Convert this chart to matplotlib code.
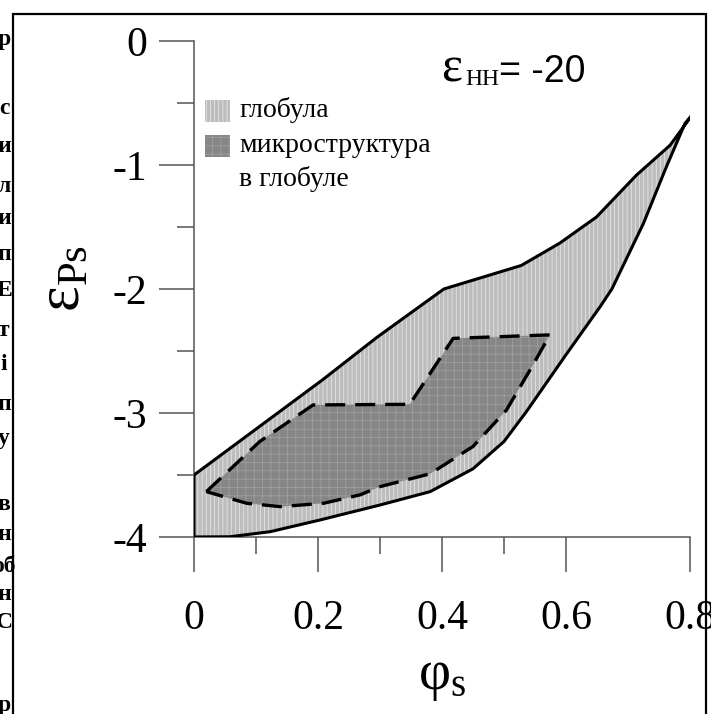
import matplotlib
matplotlib.use('Agg')
import matplotlib.pyplot as plt
from matplotlib.patches import Rectangle

# globule boundary (upper and lower curves)
upper_x = [0.0, 0.208, 0.295, 0.403, 0.528, 0.590, 0.649, 0.714, 0.768, 0.803]
upper_y = [-3.5, -2.73, -2.39, -2.0, -1.81, -1.63, -1.42, -1.08, -0.84, -0.6]
lower_x = [0.0, 0.058, 0.123, 0.203, 0.300, 0.381, 0.450, 0.500, 0.536, 0.600, 0.655, 0.674, 0.725, 0.762, 0.792, 0.803]
lower_y = [-4.0, -3.998, -3.957, -3.863, -3.742, -3.634, -3.45, -3.23, -2.99, -2.53, -2.143, -2.0, -1.47, -1.013, -0.664, -0.6]

# microstructure region (dashed contour), closed loop
micro_x = [0.020, 0.106, 0.192, 0.348, 0.418, 0.574, 0.542, 0.504, 0.450, 0.381, 0.300, 0.268, 0.209, 0.139, 0.085, 0.020]
micro_y = [-3.634, -3.23, -2.935, -2.93, -2.398, -2.37, -2.653, -2.976, -3.27, -3.49, -3.594, -3.66, -3.728, -3.755, -3.728, -3.634]

x_ticks = [0, 0.2, 0.4, 0.6, 0.8]
x_labels = ['0', '0.2', '0.4', '0.6', '0.8']
x_minor = [0.1, 0.3, 0.5]
y_ticks = [0, -1, -2, -3, -4]
y_labels = ['0', '-1', '-2', '-3', '-4']
y_minor = [-0.5, -1.5, -2.5, -3.5]

legend_labels = ['глобула', 'микроструктура', 'в глобуле']

# cut-off letters of the page text at the left edge
page_chars = ['р', 'с', 'и', 'л', 'и', 'п', 'Е', 'т', 'і', 'п', 'у', 'в', 'н', 'об', 'н', 'С', 'р']
page_rows = [40, 108, 147, 187, 219, 254, 290, 330, 364, 404, 438, 505, 535, 566, 594, 622, 706]

W, H = 711, 714
def fx(px):
    return px / W
def fy(py):
    return 1 - py / H

plt.rcParams['mathtext.fontset'] = 'custom'
plt.rcParams['mathtext.rm'] = 'Liberation Serif'
plt.rcParams['mathtext.it'] = 'Liberation Serif:italic'
plt.rcParams['hatch.linewidth'] = 0.5
plt.rcParams['axes.unicode_minus'] = False

glob_fc, glob_hc = '#bdbdbd', '#ececec'
micro_fc, micro_hc = '#868686', '#a2a2a2'

fig = plt.figure(figsize=(W / 100, H / 100), dpi=100)
ax = fig.add_axes([fx(194), fy(537), (690 - 194) / W, (537 - 41) / H])
ax.patch.set_alpha(0)

glob_x = upper_x + lower_x[::-1]
glob_y = upper_y + lower_y[::-1]
ax.fill(glob_x, glob_y, facecolor=glob_fc, edgecolor='none', zorder=1)
ax.fill(glob_x, glob_y, facecolor='none', edgecolor=glob_hc, hatch='||||', linewidth=0, zorder=1.5)
ax.fill(micro_x, micro_y, facecolor=micro_fc, edgecolor='none', zorder=2)
ax.fill(micro_x, micro_y, facecolor='none', edgecolor=micro_hc, hatch='++', linewidth=0, zorder=2.5)

ax.plot(glob_x + [glob_x[0]], glob_y + [glob_y[0]], color='black', lw=2.2, zorder=3,
        solid_joinstyle='round')
ax.plot(micro_x, micro_y, color='black', lw=2.4, dashes=(6, 3), zorder=3)

ax.set_xlim(0, 0.8)
ax.set_ylim(-4, 0)
for s in ['top', 'right']:
    ax.spines[s].set_visible(False)
for s in ['left', 'bottom']:
    ax.spines[s].set_color('#555555')
    ax.spines[s].set_linewidth(1.1)

ax.set_xticks(x_ticks)
ax.set_xticklabels(x_labels, fontfamily='Liberation Serif', fontsize=30)
ax.set_xticks(x_minor, minor=True)
ax.set_yticks(y_ticks)
ax.set_yticklabels(y_labels, fontfamily='Liberation Serif', fontsize=30)
ax.set_yticks(y_minor, minor=True)
ax.tick_params(which='major', direction='out', length=25, width=1.1, color='#555555')
ax.tick_params(which='minor', direction='out', length=12, width=1.1, color='#555555')
ax.tick_params(axis='x', which='major', pad=20)
ax.tick_params(axis='y', which='major', pad=9)

# axis titles
fig.text(fx(62), fy(278), r'$\mathrm{ε}_{\mathrm{Ps}}$', rotation=90, fontsize=44,
         ha='center', va='center')
fig.text(fx(442), fy(676), r'$\mathrm{φ}_{\mathrm{s}}$', fontsize=40, ha='center', va='center')

# epsilon_HH annotation
fig.text(fx(441), fy(82), 'ε', fontfamily='Liberation Serif', fontsize=36, va='baseline')
fig.text(fx(465), fy(85), 'HH', fontfamily='Liberation Serif', fontsize=17, va='baseline')
fig.text(fx(499), fy(82), '= -20', fontfamily='Liberation Sans', fontsize=27, va='baseline')

# legend
for top, fc, hc, hatch in [(100, glob_fc, glob_hc, '||||'), (135, micro_fc, micro_hc, '++')]:
    box = [fx(205), fy(top + 22)]
    fig.add_artist(Rectangle(box, 25 / W, 22 / H, facecolor=fc, edgecolor='none', transform=fig.transFigure))
    fig.add_artist(Rectangle(box, 25 / W, 22 / H, facecolor='none', edgecolor=hc, hatch=hatch,
                             linewidth=0, transform=fig.transFigure))
for lab, base in zip(legend_labels, [117, 152, 186]):
    fig.text(fx(239), fy(base), lab, fontfamily='Liberation Serif', fontsize=20, va='baseline')

# page frame and the clipped page text on the left
fig.add_artist(Rectangle((fx(13), fy(H + 5)), (706 - 13) / W, (H + 5 - 14) / H, facecolor='none',
                         edgecolor='black', linewidth=1.6, transform=fig.transFigure))
for ch, row in zip(page_chars, page_rows):
    fig.text(fx(4), fy(row), ch, fontfamily='Liberation Serif', fontsize=17, fontweight='bold',
             ha='center', va='center')

fig.savefig('out.png', dpi=100)
